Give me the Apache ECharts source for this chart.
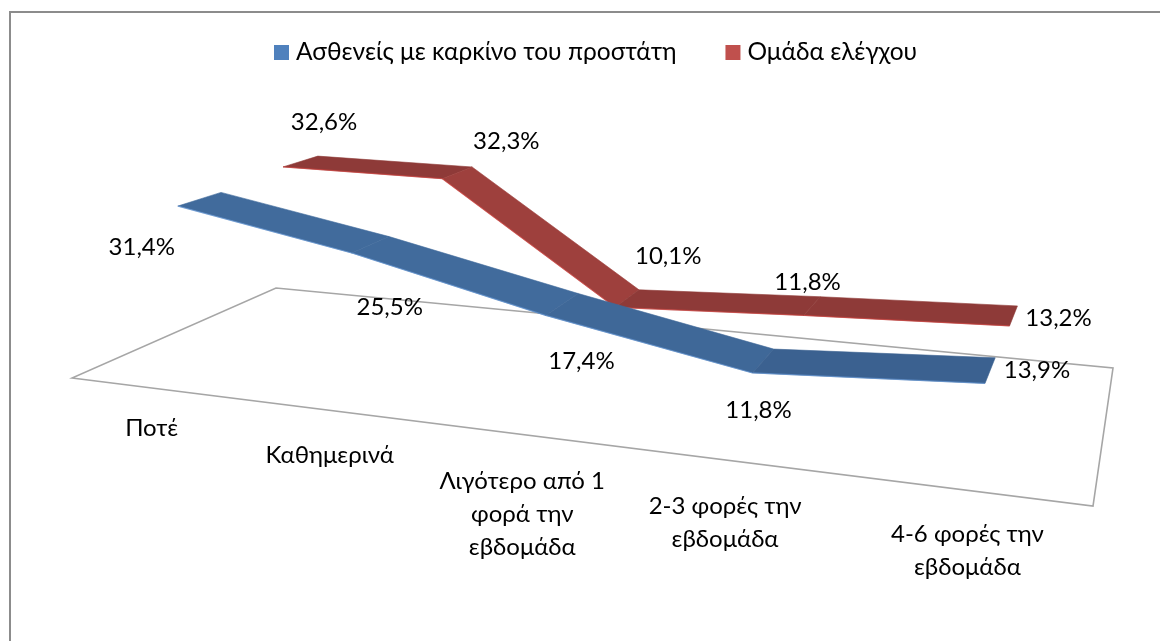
<!DOCTYPE html>
<html><head><meta charset="utf-8">
<style>html,body{margin:0;padding:0;background:#fff}#c{width:1160px;height:641px}</style>
<script src="https://cdn.jsdelivr.net/npm/echarts@6/dist/echarts.min.js"></script>
</head><body><div id="c"></div>
<script>
const categories = ['Ποτέ','Καθημερινά','Λιγότερο από 1\nφορά την\nεβδομάδα','2-3 φορές την\nεβδομάδα','4-6 φορές την\nεβδομάδα'];
const patients = [31.4,25.5,17.4,11.8,13.9];
const controls = [32.6,32.3,10.1,11.8,13.2];
const patientsName = 'Ασθενείς με καρκίνο του προστάτη';
const controlsName = 'Ομάδα ελέγχου';

const FONT = 'Lato, "Noto Sans", sans-serif';
const FS = 24;
// floor quad of the 3D box: front-left, front-right, back-right, back-left
const Q = [[72,378],[1093,506],[1113,368],[276,288]];
const dx1=Q[1][0]-Q[2][0], dy1=Q[1][1]-Q[2][1], dx2=Q[3][0]-Q[2][0], dy2=Q[3][1]-Q[2][1];
const sx=Q[0][0]-Q[1][0]+Q[2][0]-Q[3][0], sy=Q[0][1]-Q[1][1]+Q[2][1]-Q[3][1];
const den=dx1*dy2-dx2*dy1;
const G=(sx*dy2-dx2*sy)/den, H=(dx1*sy-sx*dy1)/den;
const A=Q[1][0]-Q[0][0]+G*Q[1][0], B=Q[3][0]-Q[0][0]+H*Q[3][0];
const D=Q[1][1]-Q[0][1]+G*Q[1][1], E=Q[3][1]-Q[0][1]+H*Q[3][1];
const GRID_H = 190.75;
// plot coordinates from the axes -> perspective screen position at depth z
function project(p, z){
  const u=p[0]/1000, h=GRID_H-p[1], w=1+G*u+H*z;
  return [(A*u+B*z+Q[0][0])/w, (D*u+E*z+Q[0][1]-h)/w];
}
function pct(v){ return v.toFixed(1).replace('.',',')+'%'; }

function ribbon(values, name, z0, z1, zLabel, fills, edge, legendColor, labelOff, order){
  return {
    type:'custom', name, z:order, coordinateSystem:'cartesian2d', clip:false, silent:true,
    itemStyle:{color:legendColor},
    data: values.map((v,i)=>[i,v]),
    renderItem(params, api){
      const i=api.value(0), v=api.value(1), next=values[i+1];
      const a=api.coord([i,v]);
      const anchor=project(a,zLabel), children=[];
      if(next!==undefined){
        const b=api.coord([i+1,next]);
        const f0=project(a,z0[i]), f1=project(b,z0[i+1]), k0=project(a,z1[i]), k1=project(b,z1[i+1]);
        children.push({type:'polygon',shape:{points:[f0,f1,k1,k0]},
          style:{fill:fills[i],stroke:fills[i],lineWidth:0.6}});
        children.push({type:'line',shape:{x1:f0[0],y1:f0[1],x2:f1[0],y2:f1[1]},
          style:{stroke:edge,lineWidth:1.2,opacity:0.55}});
      }
      children.push({type:'text',z2:10,style:{text:pct(v),x:anchor[0]+labelOff[i][0],y:anchor[1]+labelOff[i][1],
        align:'center',verticalAlign:'middle',font:FS+'px '+FONT,fill:'#000'}});
      return {type:'group',children};
    }
  };
}
const labelOffPatients=[[-36,41],[38,54],[39,44],[6,37],[52,-13]];
const labelOffControls=[[41,-45],[64,-37],[53,-51],[4,-33],[49,-8]];
const catOff=[[-3,37],[-2,42],[-4,44],[-16,42],[-12,40]];
const depthPatientsFront=[0.10,0.10,0.12,0.10,0.10];
const depthPatientsBack=[0.30,0.30,0.34,0.30,0.30];
const depthControlsFront=[0.62,0.62,0.62,0.62,0.62];
const depthControlsBack=[0.82,0.82,0.82,0.82,0.82];

const option={
  animation:false, backgroundColor:'#fff',
  grid:{left:0,top:0,width:1012,height:GRID_H,containLabel:false},
  xAxis:{type:'category',data:categories,show:false},
  yAxis:{type:'value',min:0,max:35,show:false},
  legend:{data:[patientsName,controlsName],left:269,top:35,itemWidth:15,itemHeight:15,itemGap:49,icon:'rect',
    selectedMode:false,textStyle:{fontFamily:FONT,fontSize:24.5,color:'#000',padding:[0,0,0,2]}},
  graphic:[{type:'polyline',shape:{points:[[10,641],[10,12],[1160,12]]},style:{stroke:'#8c8c8c',fill:'none',lineWidth:2},silent:true}],
  series:[
    {type:'custom',name:'floor',z:1,clip:false,silent:true,
     data:categories.map((c,i)=>[i,0]),
     renderItem(params,api){
       const i=api.value(0), p=api.coord([i,0]);
       const f=project(p,0), children=[];
       if(i===0) children.push({type:'polygon',shape:{points:Q},style:{fill:'none',stroke:'#a6a6a6',lineWidth:1.6}});
       children.push({type:'text',style:{text:categories[i],x:f[0]+catOff[i][0],y:f[1]+catOff[i][1]-14,
         align:'center',verticalAlign:'top',font:FS+'px '+FONT,lineHeight:33,fill:'#000'}});
       return {type:'group',children};
     }},
    ribbon(controls,controlsName,depthControlsFront,depthControlsBack,0.62,['#8e3a38','#9e403d','#8e3a38','#8e3a38'],'#d8403c','#C0504D',labelOffControls,2),
    ribbon(patients,patientsName,depthPatientsFront,depthPatientsBack,0.10,['#416b9c','#416b9c','#3f6898','#3b6190'],'#6a9fe0','#4F81BD',labelOffPatients,3)
  ]
};
echarts.init(document.getElementById('c'),null,{renderer:'canvas'}).setOption(option);
</script></body></html>
